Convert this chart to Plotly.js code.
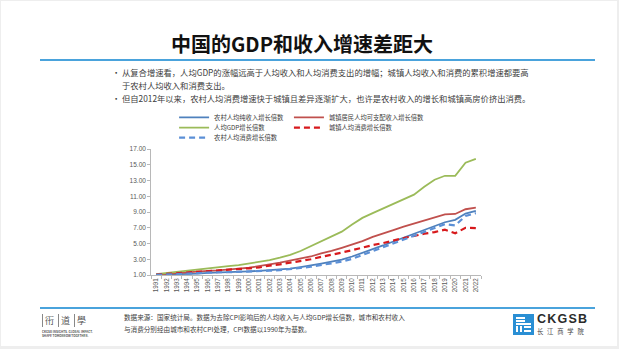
<!DOCTYPE html>
<html><head><meta charset="utf-8">
<script src="https://cdn.plot.ly/plotly-3.0.1.min.js"></script>
<style>
html,body{margin:0;padding:0;}
body{width:619px;height:349px;background:#eeeeee;position:relative;overflow:hidden;font-family:"Noto Sans CJK SC","Noto Sans",sans-serif;}
#slide{position:absolute;left:1px;top:1px;width:616px;height:345px;background:#fff;}
#chart{position:absolute;left:0;top:0;width:619px;height:349px;}
.t{position:absolute;white-space:nowrap;color:#404040;}
.hl{position:absolute;height:2px;background:#4aa3dc;}
</style></head>
<body>
<div id="slide"></div>
<div class="t" id="title" style="left:0;width:604px;top:31px;text-align:center;font-size:20px;font-weight:bold;color:#111;line-height:26px;">中国的GDP和收入增速差距大</div>
<div class="hl" style="left:40px;width:555px;top:59px;"></div>
<div class="t" style="left:112px;top:66px;font-size:8.3px;line-height:13px;">·</div>
<div class="t" style="left:122px;top:66px;font-size:8.3px;line-height:13px;">从复合增速看，人均GDP的涨幅远高于人均收入和人均消费支出的增幅；城镇人均收入和消费的累积增速都要高<br>于农村人均收入和消费支出。</div>
<div class="t" style="left:112px;top:92px;font-size:8.3px;line-height:13px;">·</div>
<div class="t" style="left:122px;top:92px;font-size:8.3px;line-height:13px;">但自2012年以来，农村人均消费增速快于城镇且差异逐渐扩大，也许是农村收入的增长和城镇高房价挤出消费。</div>

<div class="hl" style="left:40px;width:555px;top:307px;"></div>
<div class="t" style="left:124px;top:311px;font-size:6.6px;line-height:12px;">数据来源：国家统计局。数据为去除CPI影响后的人均收入与人均GDP增长倍数，城市和农村收入<br>与消费分别经由城市和农村CPI处理，CPI数据以1990年为基数。</div>

<!-- left logo -->
<div style="position:absolute;left:42px;top:314px;width:1px;height:13px;background:#888;"></div>
<div class="t" style="left:45px;top:314px;font-size:9px;line-height:13px;color:#555;">衎</div>
<div style="position:absolute;left:58px;top:314px;width:1px;height:13px;background:#888;"></div>
<div class="t" style="left:61px;top:314px;font-size:9px;line-height:13px;color:#555;">道</div>
<div style="position:absolute;left:74px;top:314px;width:1px;height:13px;background:#888;"></div>
<div class="t" style="left:77px;top:314px;font-size:9px;line-height:13px;color:#555;">學</div>
<div class="t" style="left:42px;top:330px;font-size:3px;line-height:4px;color:#555;font-weight:bold;">CKGSB INSIGHTS. GLOBAL IMPACT.<br>SHAPE TOMORROW TOGETHER.</div>

<!-- CKGSB logo -->
<div style="position:absolute;left:513px;top:314px;width:21px;height:21px;background:#2a8fd4;"></div>
<div style="position:absolute;left:516px;top:317px;width:9px;height:1.5px;background:#fff;"></div>
<div style="position:absolute;left:516px;top:320px;width:9px;height:1.5px;background:#fff;"></div>
<div style="position:absolute;left:516px;top:323px;width:15px;height:1.5px;background:#fff;"></div>
<div style="position:absolute;left:516px;top:326px;width:1.5px;height:6px;background:#fff;"></div>
<div style="position:absolute;left:520px;top:326px;width:1.5px;height:6px;background:#fff;"></div>
<div style="position:absolute;left:524px;top:326px;width:7px;height:1.5px;background:#fff;"></div>
<div style="position:absolute;left:524px;top:330px;width:7px;height:1.5px;background:#fff;"></div>
<div class="t" style="left:537px;top:311px;font-size:12.5px;line-height:16px;font-weight:bold;color:#2b2b2b;letter-spacing:1.2px;font-family:'Liberation Sans',sans-serif;">CKGSB</div>
<div class="t" style="left:537px;top:328px;font-size:6.3px;line-height:8px;color:#444;letter-spacing:3.8px;">长江商学院</div>

<div id="chart"></div>
<script>
var years = ["1991","1992","1993","1994","1995","1996","1997","1998","1999","2000","2001","2002","2003","2004","2005","2006","2007","2008","2009","2010","2011","2012","2013","2014","2015","2016","2017","2018","2019","2020","2021","2022"];
var ruralIncome = [1.02,1.05,1.08,1.13,1.18,1.28,1.35,1.40,1.44,1.47,1.53,1.60,1.67,1.80,2.00,2.20,2.45,2.70,2.95,3.35,3.80,4.25,4.75,5.25,5.75,6.20,6.70,7.20,7.70,8.00,8.80,9.15];
var urbanIncome = [1.05,1.15,1.27,1.38,1.45,1.52,1.58,1.66,1.80,1.92,2.10,2.35,2.57,2.80,3.08,3.35,3.75,4.05,4.45,4.85,5.30,5.85,6.25,6.70,7.15,7.55,7.95,8.35,8.70,8.75,9.35,9.55];
var gdpPerCapita = [1.10,1.25,1.42,1.60,1.75,1.90,2.02,2.13,2.25,2.45,2.65,2.90,3.20,3.55,4.05,4.65,5.30,5.90,6.50,7.40,8.25,8.85,9.45,10.00,10.55,11.20,12.20,13.10,13.60,13.60,15.25,15.75];
var urbanConsumption = [1.05,1.13,1.25,1.33,1.40,1.45,1.52,1.60,1.72,1.85,1.95,2.20,2.35,2.55,2.80,3.00,3.30,3.55,3.85,4.15,4.50,4.80,5.05,5.40,5.70,5.95,6.25,6.45,6.75,6.30,7.00,6.95];
var ruralConsumption = [1.02,1.05,1.10,1.17,1.25,1.33,1.35,1.35,1.38,1.43,1.48,1.55,1.62,1.73,1.90,2.05,2.25,2.45,2.70,3.05,3.55,4.00,4.50,5.05,5.50,5.95,6.45,6.95,7.45,7.30,8.50,8.85];
var names = ["农村人均纯收入增长倍数","城镇居民人均可支配收入增长倍数","人均GDP增长倍数","城镇人均消费增长倍数","农村人均消费增长倍数"];
var yTicks = [1,3,5,7,9,11,13,15,17];

var traces = [
  {x:years,y:ruralIncome,name:names[0],type:'scatter',mode:'lines',line:{color:'#4f81bd',width:1.8},legend:'legend'},
  {x:years,y:urbanIncome,name:names[1],type:'scatter',mode:'lines',line:{color:'#c0504d',width:1.8},legend:'legend2'},
  {x:years,y:gdpPerCapita,name:names[2],type:'scatter',mode:'lines',line:{color:'#9bbb59',width:1.8},legend:'legend3'},
  {x:years,y:urbanConsumption,name:names[3],type:'scatter',mode:'lines',line:{color:'#d7191c',width:2.2,dash:'6px,4px'},legend:'legend4'},
  {x:years,y:ruralConsumption,name:names[4],type:'scatter',mode:'lines',line:{color:'#5b8fd6',width:2.2,dash:'6px,4px'},legend:'legend5'}
];
var lf = {family:'"Noto Sans CJK SC", sans-serif',size:6.3,color:'#404040'};
function lg(x,y){return {x:x,y:y,xanchor:'left',yanchor:'middle',font:lf,bgcolor:'rgba(0,0,0,0)',borderwidth:0,itemwidth:30,orientation:'v'};}
var layout = {
  width:619,height:349,
  paper_bgcolor:'rgba(0,0,0,0)',plot_bgcolor:'rgba(0,0,0,0)',
  margin:{l:151,r:138,t:149,b:74,pad:0},
  showlegend:true,
  xaxis:{type:'category',range:[-0.5,31.5],tickangle:-90,ticks:'outside',tickson:'boundaries',ticklen:3,tickwidth:0.8,tickcolor:'#a6a6a6',showline:true,linecolor:'#a6a6a6',linewidth:0.8,showgrid:false,zeroline:false,fixedrange:true,
    tickfont:{family:'"Liberation Sans", sans-serif',size:6.3,color:'#595959'}},
  yaxis:{range:[1,17],tickmode:'array',tickvals:yTicks,tickformat:'.2f',ticks:'outside',ticklen:3,tickwidth:0.8,tickcolor:'#a6a6a6',showline:true,linecolor:'#a6a6a6',linewidth:0.8,showgrid:false,zeroline:false,fixedrange:true,
    tickfont:{family:'"Liberation Sans", sans-serif',size:6.5,color:'#595959'}},
  legend:lg(0.07,1.2516),
  legend2:lg(0.418,1.2516),
  legend3:lg(0.07,1.169),
  legend4:lg(0.418,1.169),
  legend5:lg(0.07,1.0897)
};
Plotly.newPlot('chart',traces,layout,{displayModeBar:false,staticPlot:true});
</script>
</body></html>
